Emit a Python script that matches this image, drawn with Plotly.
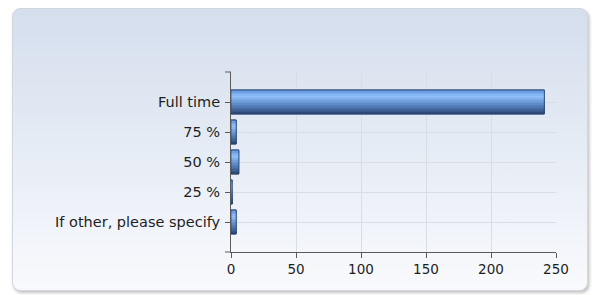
import base64
import plotly.graph_objects as go

categories = ["Full time", "75 %", "50 %", "25 %", "If other, please specify"]
counts = [241, 4, 6, 1, 4]
x_ticks = [0, 50, 100, 150, 200, 250]

W, H = 595, 295
ML, MR, MT, MB = 231, 39, 72, 43

# background card (rounded, gradient, shadow) as an SVG image
svg = f'''<svg xmlns="http://www.w3.org/2000/svg" width="{W}" height="{H}" viewBox="0 0 {W} {H}">
<defs>
<linearGradient id="g" x1="0" y1="0" x2="0" y2="1">
<stop offset="0" stop-color="#d4deed"/>
<stop offset="0.5" stop-color="#e6ecf5"/>
<stop offset="1" stop-color="#f9fafd"/>
</linearGradient>
<filter id="b" x="-5%" y="-5%" width="110%" height="110%"><feGaussianBlur stdDeviation="1.5"/></filter>
</defs>
<rect x="13.5" y="10" width="576" height="283" rx="8" ry="8" fill="#c4c4c4" filter="url(#b)"/>
<rect x="12.5" y="8.5" width="575" height="282" rx="8" ry="8" fill="url(#g)" stroke="#d3d7dd" stroke-width="1"/>
</svg>'''
src = "data:image/svg+xml;base64," + base64.b64encode(svg.encode()).decode()

pw = W - ML - MR
ph = H - MT - MB

fig = go.Figure()

# bar gradient via stacked strips
stops = [
    (0.00, (78, 128, 205)),
    (0.12, (115, 166, 235)),
    (0.28, (145, 192, 250)),
    (0.45, (116, 162, 224)),
    (0.65, (88, 130, 190)),
    (0.85, (62, 98, 152)),
    (1.00, (40, 68, 110)),
]

def col(t):
    for (a, ca), (b, cb) in zip(stops[:-1], stops[1:]):
        if a <= t <= b:
            f = (t - a) / (b - a) if b > a else 0
            c = [round(ca[i] + (cb[i] - ca[i]) * f) for i in range(3)]
            return f"rgb({c[0]},{c[1]},{c[2]})"
    return "rgb(40,68,110)"

BW = 0.8
N = 16
w = BW / N
# outline base
fig.add_trace(go.Bar(
    x=counts, y=categories, orientation="h", width=BW, offset=-BW / 2,
    marker=dict(color="rgb(40,68,110)", line=dict(color="rgb(44,72,116)", width=1)),
    hoverinfo="skip", showlegend=False,
))
for k in range(N):
    t = (k + 0.5) / N
    fig.add_trace(go.Bar(
        x=counts, y=categories, orientation="h", width=w * 1.02,
        offset=-BW / 2 + k * w,
        marker=dict(color=col(t), line=dict(width=0)),
        hoverinfo="skip", showlegend=False,
    ))
# thin outline on top
fig.add_trace(go.Bar(
    x=counts, y=categories, orientation="h", width=BW, offset=-BW / 2,
    marker=dict(color="rgba(0,0,0,0)", line=dict(color="rgba(40,66,108,0.85)", width=0.8)),
    hoverinfo="skip", showlegend=False,
))

axis_col = "#5a5a5a"
grid_col = "#d9dde5"
font = dict(family="DejaVu Sans", size=13.5, color="#1e1e1e")

fig.update_layout(
    width=W, height=H,
    margin=dict(l=ML, r=MR, t=MT, b=MB, pad=0),
    barmode="overlay",
    paper_bgcolor="white",
    plot_bgcolor="rgba(0,0,0,0)",
    font=font,
    xaxis=dict(
        range=[0, 250], tickvals=x_ticks, ticktext=[str(v) for v in x_ticks],
        showgrid=True, gridcolor=grid_col, gridwidth=1,
        showline=True, linecolor=axis_col, linewidth=1,
        ticks="outside", ticklen=5, tickcolor=axis_col, tickwidth=1,
        zeroline=False, fixedrange=True,
    ),
    yaxis=dict(
        type="category", categoryorder="array", categoryarray=categories,
        range=[len(categories), -1],
        showgrid=True, gridcolor=grid_col, gridwidth=1,
        showline=True, linecolor=axis_col, linewidth=1,
        ticks="outside", ticklen=5, tickcolor=axis_col, tickwidth=1,
        ticklabelstandoff=2, tickfont=dict(size=14.5),
        zeroline=False, fixedrange=True,
    ),
    images=[dict(
        source=src, xref="paper", yref="paper",
        x=-ML / pw, y=1 + MT / ph, sizex=W / pw, sizey=H / ph,
        xanchor="left", yanchor="top", sizing="stretch", layer="below",
    )],
    shapes=[
        dict(type="line", xref="x domain", yref="y domain", xsizemode="pixel", xanchor=0,
             x0=-6, x1=0, y0=0, y1=0, line=dict(color=axis_col, width=1)),
        dict(type="line", xref="x domain", yref="y domain", xsizemode="pixel", xanchor=0,
             x0=-6, x1=0, y0=1, y1=1, line=dict(color=axis_col, width=1)),
    ],
)

fig.write_html(
    "out.html",
    config={"displayModeBar": False},
    post_script="document.body.style.margin='0';document.body.style.overflow='hidden';",
)
